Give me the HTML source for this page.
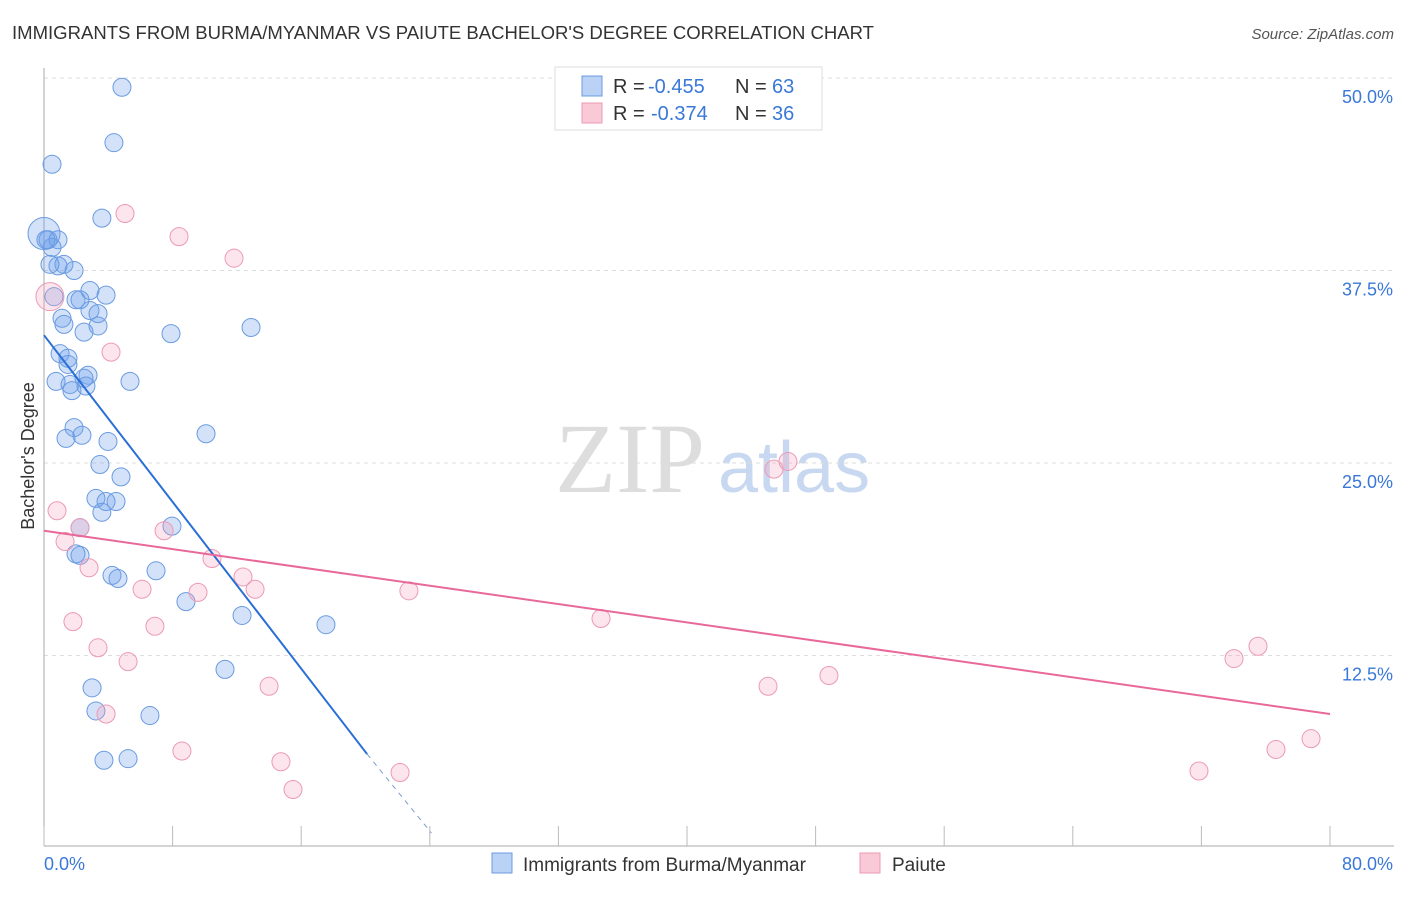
<!DOCTYPE html>
<html><head><meta charset="utf-8"><style>
body{margin:0;background:#fff;font-family:"Liberation Sans",sans-serif;}
</style></head><body>
<svg id="chart" width="1406" height="892" xmlns="http://www.w3.org/2000/svg" font-family="Liberation Sans, sans-serif">
<text x="12" y="39" font-size="18" fill="#333" textLength="862" lengthAdjust="spacingAndGlyphs">IMMIGRANTS FROM BURMA/MYANMAR VS PAIUTE BACHELOR'S DEGREE CORRELATION CHART</text>
<text x="1394" y="39" font-size="15" fill="#555" font-style="italic" text-anchor="end">Source: ZipAtlas.com</text>
<text x="555" y="492" font-size="100" fill="#ddd" font-family="Liberation Serif, serif">ZIP</text>
<text x="718" y="492" font-size="72" fill="#c8d8f0">atlas</text>
<g id="grid"></g><g id="axes"></g><g id="marks"></g>
<text transform="translate(34,456) rotate(-90)" font-size="18" fill="#333" text-anchor="middle">Bachelor's Degree</text>
<g>
<rect x="555" y="67" width="267" height="63" fill="#fff" stroke="#ddd"/>
<rect x="582" y="76" width="20" height="20" fill="#b9d2f5" stroke="#6a9be0"/>
<rect x="582" y="103" width="20" height="20" fill="#f9c9d8" stroke="#ec9ab4"/>
<text x="613" y="93" font-size="20" fill="#333">R =</text>
<text x="648" y="93" font-size="20" fill="#3a78d8">-0.455</text>
<text x="735" y="93" font-size="20" fill="#333">N =</text>
<text x="772" y="93" font-size="20" fill="#3a78d8">63</text>
<text x="613" y="120" font-size="20" fill="#333">R =</text>
<text x="651" y="120" font-size="20" fill="#3a78d8">-0.374</text>
<text x="735" y="120" font-size="20" fill="#333">N =</text>
<text x="772" y="120" font-size="20" fill="#3a78d8">36</text>
</g>
<g>
<rect x="492" y="853" width="20" height="20" fill="#b9d2f5" stroke="#6a9be0"/>
<text x="523" y="871" font-size="19" fill="#333">Immigrants from Burma/Myanmar</text>
<rect x="860" y="853" width="20" height="20" fill="#f9c9d8" stroke="#ec9ab4"/>
<text x="892" y="871" font-size="19" fill="#333">Paiute</text>
</g>
</svg>
<script>
const blueX=[4.85,4.35,0.5,3.6,0,0.25,0.5,0.87,1.24,1.87,0.62,2.86,3.86,1.99,2.24,2.86,3.36,1.12,1.24,3.36,2.49,7.9,12.88,1.0,1.49,1.49,2.74,2.49,0.75,1.62,5.35,1.74,2.61,1.87,1.37,2.36,10.08,3.98,3.48,4.79,3.23,4.48,3.86,3.6,7.96,2.24,2.24,1.99,4.23,4.6,6.97,8.83,12.32,17.54,11.26,2.99,3.23,6.59,3.73,5.23,0.87,0.12,0.37];
const blueY=[49.4,45.8,44.4,40.9,39.9,39.5,39.0,37.8,37.9,37.5,35.8,36.2,35.9,35.6,35.6,34.9,34.7,34.4,34.0,33.9,33.5,33.4,33.8,32.1,31.8,31.4,30.7,30.5,30.3,30.1,30.3,29.7,30.0,27.3,26.6,26.8,26.9,26.4,24.9,24.1,22.7,22.5,22.5,21.8,20.9,20.8,19.0,19.1,17.7,17.5,18.0,16.0,15.1,14.5,11.6,10.4,8.9,8.6,5.7,5.8,39.5,39.5,37.9];
const pinkX=[5.04,8.4,11.82,0.37,4.17,0.81,2.24,7.47,1.31,10.45,2.8,12.38,6.1,9.58,13.13,22.7,1.8,6.9,34.65,3.36,5.23,14.0,3.86,8.58,14.74,22.15,15.49,45.41,46.28,45.04,48.83,74.03,75.52,71.85,76.64,78.82];
const pinkY=[41.2,39.7,38.3,35.8,32.2,21.9,20.8,20.6,19.9,18.8,18.2,17.6,16.8,16.6,16.8,16.7,14.7,14.4,14.9,13.0,12.1,10.5,8.7,6.3,5.6,4.9,3.8,24.6,25.1,10.5,11.2,12.3,13.1,5.0,6.4,7.1];
const yTicks=[12.5,25.0,37.5,50.0];
const yTickLabels=["12.5%","25.0%","37.5%","50.0%"];
const xTicks=[0,8,16,24,32,40,48,56,64,72,80];
const blueTrend=[[0,33.3],[20.1,6.1]];
const blueTrendDash=[[20.1,6.1],[24.1,0.97]];
const pinkTrend=[[0,20.6],[80,8.7]];
const NS="http://www.w3.org/2000/svg";
const sx=v=>44+v*16.075, sy=v=>848-v*15.4;
function mk(t,a,p){const e=document.createElementNS(NS,t);for(const k in a)e.setAttribute(k,a[k]);document.getElementById(p).appendChild(e);return e;}
yTicks.forEach((t,i)=>{
  const g=mk('line',{x1:44,x2:1394,y1:sy(t),y2:sy(t),stroke:'#ddd','stroke-dasharray':'4,4'},'grid');
  
  
  const l=mk('text',{x:1393,y:sy(t)+25,'font-size':18,fill:'#3a78d8','text-anchor':'end'},'axes');
  l.textContent=yTickLabels[i];
  
  
});
const ax=mk('line',{x1:44,x2:44,y1:68,y2:846,stroke:'#aaa'},'axes');


const bx=mk('line',{x1:44,x2:1394,y1:846,y2:846,stroke:'#aaa'},'axes');


xTicks.forEach(t=>{const k=mk('line',{x1:sx(t),x2:sx(t),y1:826,y2:846,stroke:'#bbb'},'axes');
  
  });
const x0=mk('text',{x:44,y:870,'font-size':18,fill:'#3a78d8'},'axes');x0.textContent='0.0%';


const x1=mk('text',{x:1393,y:870,'font-size':18,fill:'#3a78d8','text-anchor':'end'},'axes');x1.textContent='80.0%';


blueX.forEach((x,i)=>{const big=(i===4);
  const c=mk('circle',{cx:sx(x),cy:sy(blueY[i]),r:big?16:9,fill:'rgba(110,160,235,0.3)',stroke:'#6a9be0','stroke-width':1},'marks');
  
  });
pinkX.forEach((x,i)=>{const big=(i===3);
  const c=mk('circle',{cx:sx(x),cy:sy(pinkY[i]),r:big?14:9,fill:'rgba(245,160,190,0.28)',stroke:'#ec9ab4','stroke-width':1},'marks');
  
  });
const bl=mk('line',{x1:sx(blueTrend[0][0]),y1:sy(blueTrend[0][1]),x2:sx(blueTrend[1][0]),y2:sy(blueTrend[1][1]),stroke:'#2a6fd6','stroke-width':2},'marks');


const bd=mk('line',{x1:sx(blueTrendDash[0][0]),y1:sy(blueTrendDash[0][1]),x2:sx(blueTrendDash[1][0]),y2:sy(blueTrendDash[1][1]),stroke:'#7a9ccc','stroke-width':1,'stroke-dasharray':'5,5'},'marks');


const pl=mk('line',{x1:sx(pinkTrend[0][0]),y1:sy(pinkTrend[0][1]),x2:sx(pinkTrend[1][0]),y2:sy(pinkTrend[1][1]),stroke:'#e8689a','stroke-width':2},'marks');


</script>
</body></html>
